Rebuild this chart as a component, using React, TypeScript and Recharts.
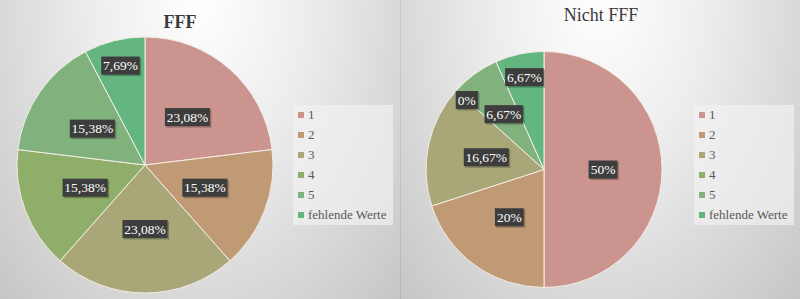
import { PieChart, Pie, Cell, Legend } from "recharts";

const categories = ["1", "2", "3", "4", "5", "fehlende Werte"];
const fffValues = [3, 2, 3, 2, 2, 1];
const nichtFffValues = [15, 6, 5, 0, 2, 2];
const titles = ["FFF", "Nicht FFF"];

const COLORS = ["#cc948e", "#bf9a74", "#a9a777", "#8fae69", "#81b27e", "#63b680"];

const RADIAN = Math.PI / 180;
const FONT = '"Liberation Serif", "Times New Roman", serif';

function fmtPct(p: number) {
  const s = (p * 100).toFixed(2).replace(/\.?0+$/, "");
  return s.replace(".", ",") + "%";
}

function textWidth(s: string) {
  let w = 0;
  for (const ch of s) {
    if (ch === ",") w += 3.25;
    else if (ch === "%") w += 10.8;
    else w += 6.5;
  }
  return w;
}

function makeLabel(count: number) {
  return (props: any) => {
    const { cx, cy, midAngle, outerRadius, percent, index } = props;
    let f = 0.5;
    if (percent === 0) f = 0.88;
    else if (percent < 0.1 && index === count - 1) f = 0.8;
    else if (percent < 0.1) f = 0.58;
    const r = outerRadius * f;
    const x = cx + r * Math.cos(-midAngle * RADIAN);
    const y = cy + r * Math.sin(-midAngle * RADIAN);
    const txt = fmtPct(percent);
    const w = textWidth(txt) + 5;
    const h = 18;
    return (
      <g>
        <rect x={x - w / 2 + 1.5} y={y - h / 2 + 1.5} width={w} height={h} fill="rgba(0,0,0,0.25)" />
        <rect x={x - w / 2} y={y - h / 2} width={w} height={h} fill="#3d3d3d" />
        <text x={x} y={y + 4.5} textAnchor="middle" fill="#ffffff" fontSize={13.5} fontFamily={FONT}>
          {txt}
        </text>
      </g>
    );
  };
}

function LegendBox() {
  return (
    <div
      style={{
        width: 100,
        height: 120,
        background: "rgba(243,243,243,0.65)",
        boxSizing: "border-box",
        paddingTop: 0,
        fontFamily: FONT,
        fontSize: 13,
        color: "#595959",
      }}
    >
      {categories.map((c, i) => (
        <div key={c} style={{ height: 20, display: "flex", alignItems: "center", paddingLeft: 5 }}>
          <span style={{ width: 6, height: 6, background: COLORS[i], marginRight: 4, display: "inline-block" }} />
          <span>{c}</span>
        </div>
      ))}
    </div>
  );
}

function PiePanel({
  values,
  title,
  bold,
  titleTop,
  titleShift,
  cx,
  cy,
  r,
  divider,
}: {
  values: number[];
  title: string;
  bold: boolean;
  titleTop: number;
  titleShift: number;
  cx: number;
  cy: number;
  r: number;
  divider?: boolean;
}) {
  const data = categories.map((name, i) => ({ name, value: values[i] }));
  return (
    <div
      style={{
        position: "relative",
        width: 400,
        height: 299,
        boxSizing: "border-box",
        borderLeft: divider ? "1px solid rgba(0,0,0,0.07)" : undefined,
        background:
          "radial-gradient(farthest-corner at 50% 0%, #ffffff 0%, #ececec 40%, #c6c6c6 100%)",
      }}
    >
      <div
        style={{
          position: "absolute",
          left: 0,
          width: 400,
          top: titleTop,
          textAlign: "center",
          fontFamily: FONT,
          fontSize: 18,
          fontWeight: bold ? "bold" : "normal",
          color: "#3a3a3a",
          lineHeight: "22px",
        }}
      >
        <span style={{ position: "relative", left: titleShift }}>{title}</span>
      </div>
      <PieChart
        width={400}
        height={299}
        margin={{ top: 0, right: 0, bottom: 0, left: 0 }}
        style={{ position: "absolute", left: 0, top: 0 }}
      >
        <Pie
          data={data}
          dataKey="value"
          nameKey="name"
          cx={cx}
          cy={cy}
          outerRadius={r}
          startAngle={90}
          endAngle={-270}
          stroke="#f3ede6"
          strokeWidth={1}
          label={makeLabel(data.length)}
          labelLine={false}
          isAnimationActive={false}
        >
          {data.map((d, i) => (
            <Cell key={d.name} fill={COLORS[i]} />
          ))}
        </Pie>
        <Legend
          content={() => <LegendBox />}
          wrapperStyle={{ left: 293, top: 105, width: 100 }}
        />
      </PieChart>
    </div>
  );
}

export default function App() {
  return (
    <div style={{ position: "absolute", left: 0, top: 0, width: 800, height: 299, display: "flex" }}>
      <PiePanel values={fffValues} title={titles[0]} bold titleTop={11} titleShift={-20} cx={145} cy={165} r={128} />
      <PiePanel
        values={nichtFffValues}
        title={titles[1]}
        bold={false}
        titleTop={4}
        titleShift={0}
        cx={143}
        cy={169.5}
        r={118}
        divider
      />
    </div>
  );
}
